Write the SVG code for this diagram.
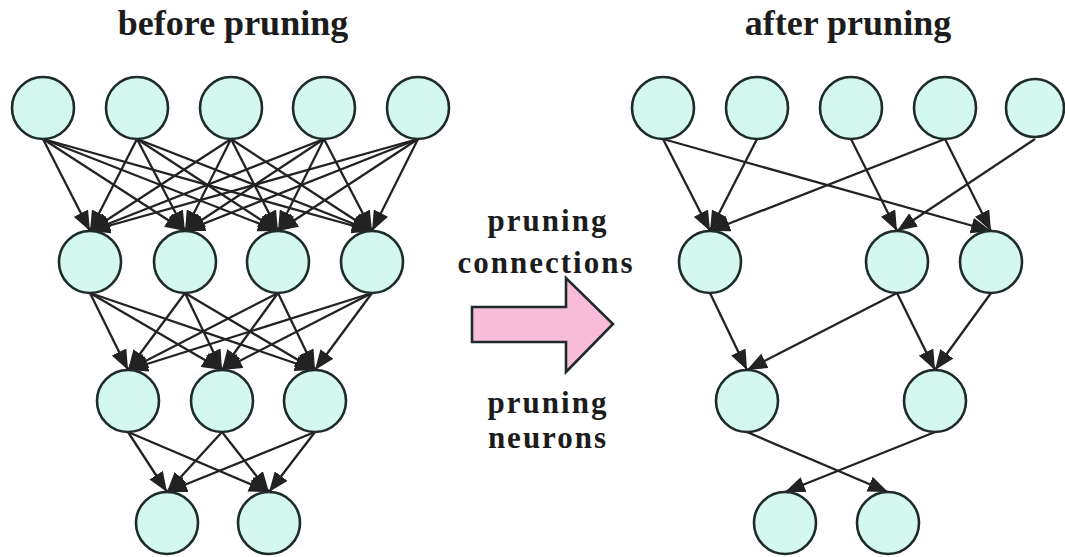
<svg xmlns="http://www.w3.org/2000/svg" width="1065" height="557" viewBox="0 0 1065 557">
<style>
.n{fill:#d4f7ef;stroke:#1e2b2a;stroke-width:2.6}
.c line{stroke:#222;stroke-width:2.3;marker-end:url(#ah)}
.t{font-family:"Liberation Serif","Times New Roman",serif;font-weight:bold;fill:#1c1c1c;text-anchor:middle}
.title{font-size:36px}
.mid{font-size:31px;letter-spacing:2px}
</style>
<defs>
<marker id="ah" markerUnits="userSpaceOnUse" markerWidth="21" markerHeight="16" refX="20" refY="8" orient="auto">
<path d="M0,0 L20,8 L0,16 z" fill="#222"/>
</marker>
</defs>
<rect width="1065" height="557" fill="#fff"/>
<text class="t title" x="233" y="35">before pruning</text>
<text class="t title" x="848" y="35">after pruning</text>
<g id="label">
<text class="t mid" x="548" y="231">pruning</text>
<text class="t mid" x="546" y="273">connections</text>
<text class="t mid" x="548" y="413">pruning</text>
<text class="t mid" x="548" y="448">neurons</text>
</g>
<g id="bigArrow">
<polygon points="472,307 566,307 566,278 613,324 566,372 566,342 472,342" fill="#f8bcd9" stroke="#1e2b2a" stroke-width="2.6"/>
</g>
<g class="c" id="connectors">
<line x1="43" y1="139" x2="90" y2="231"/><line x1="43" y1="139" x2="185" y2="231"/><line x1="43" y1="139" x2="278" y2="231"/><line x1="43" y1="139" x2="372" y2="231"/>
<line x1="137" y1="139" x2="90" y2="231"/><line x1="137" y1="139" x2="185" y2="231"/><line x1="137" y1="139" x2="278" y2="231"/><line x1="137" y1="139" x2="372" y2="231"/>
<line x1="231" y1="139" x2="90" y2="231"/><line x1="231" y1="139" x2="185" y2="231"/><line x1="231" y1="139" x2="278" y2="231"/><line x1="231" y1="139" x2="372" y2="231"/>
<line x1="324" y1="139" x2="90" y2="231"/><line x1="324" y1="139" x2="185" y2="231"/><line x1="324" y1="139" x2="278" y2="231"/><line x1="324" y1="139" x2="372" y2="231"/>
<line x1="418" y1="139" x2="90" y2="231"/><line x1="418" y1="139" x2="185" y2="231"/><line x1="418" y1="139" x2="278" y2="231"/><line x1="418" y1="139" x2="372" y2="231"/>
<line x1="90" y1="293" x2="128" y2="370"/><line x1="90" y1="293" x2="222" y2="370"/><line x1="90" y1="293" x2="315" y2="370"/>
<line x1="185" y1="293" x2="128" y2="370"/><line x1="185" y1="293" x2="222" y2="370"/><line x1="185" y1="293" x2="315" y2="370"/>
<line x1="278" y1="293" x2="128" y2="370"/><line x1="278" y1="293" x2="222" y2="370"/><line x1="278" y1="293" x2="315" y2="370"/>
<line x1="372" y1="293" x2="128" y2="370"/><line x1="372" y1="293" x2="222" y2="370"/><line x1="372" y1="293" x2="315" y2="370"/>
<line x1="128" y1="432" x2="167" y2="492"/><line x1="128" y1="432" x2="269" y2="492"/>
<line x1="222" y1="432" x2="167" y2="492"/><line x1="222" y1="432" x2="269" y2="492"/>
<line x1="315" y1="432" x2="167" y2="492"/><line x1="315" y1="432" x2="269" y2="492"/>
<line x1="663" y1="139" x2="710" y2="231"/><line x1="663" y1="139" x2="991" y2="231"/>
<line x1="757" y1="139" x2="710" y2="231"/>
<line x1="851" y1="139" x2="897" y2="231"/>
<line x1="945" y1="139" x2="710" y2="231"/><line x1="945" y1="139" x2="991" y2="231"/>
<line x1="1035" y1="139" x2="897" y2="231"/>
<line x1="710" y1="293" x2="747" y2="370"/>
<line x1="897" y1="293" x2="747" y2="370"/><line x1="897" y1="293" x2="935" y2="370"/>
<line x1="991" y1="293" x2="935" y2="370"/>
<line x1="747" y1="432" x2="888" y2="492"/>
<line x1="935" y1="432" x2="785" y2="492"/>
</g>
<g id="L1a"><circle class="n" cx="43" cy="108" r="31"/></g>
<g id="L1b"><circle class="n" cx="137" cy="108" r="31"/></g>
<g id="L1c"><circle class="n" cx="231" cy="108" r="31"/></g>
<g id="L1d"><circle class="n" cx="324" cy="108" r="31"/></g>
<g id="L1e"><circle class="n" cx="418" cy="108" r="31"/></g>
<g id="L2a"><circle class="n" cx="90" cy="262" r="31"/></g>
<g id="L2b"><circle class="n" cx="185" cy="262" r="31"/></g>
<g id="L2c"><circle class="n" cx="278" cy="262" r="31"/></g>
<g id="L2d"><circle class="n" cx="372" cy="262" r="31"/></g>
<g id="L3a"><circle class="n" cx="128" cy="401" r="31"/></g>
<g id="L3b"><circle class="n" cx="222" cy="401" r="31"/></g>
<g id="L3c"><circle class="n" cx="315" cy="401" r="31"/></g>
<g id="L4a"><circle class="n" cx="167" cy="523" r="31"/></g>
<g id="L4b"><circle class="n" cx="269" cy="523" r="31"/></g>
<g id="R1a"><circle class="n" cx="663" cy="108" r="31"/></g>
<g id="R1b"><circle class="n" cx="757" cy="108" r="31"/></g>
<g id="R1c"><circle class="n" cx="851" cy="108" r="31"/></g>
<g id="R1d"><circle class="n" cx="945" cy="108" r="31"/></g>
<g id="R1e"><circle class="n" cx="1035" cy="108" r="29"/></g>
<g id="R2a"><circle class="n" cx="710" cy="262" r="31"/></g>
<g id="R2b"><circle class="n" cx="897" cy="262" r="31"/></g>
<g id="R2c"><circle class="n" cx="991" cy="262" r="31"/></g>
<g id="R3a"><circle class="n" cx="747" cy="401" r="31"/></g>
<g id="R3b"><circle class="n" cx="935" cy="401" r="31"/></g>
<g id="R4a"><circle class="n" cx="785" cy="523" r="31"/></g>
<g id="R4b"><circle class="n" cx="888" cy="523" r="31"/></g>
</svg>
